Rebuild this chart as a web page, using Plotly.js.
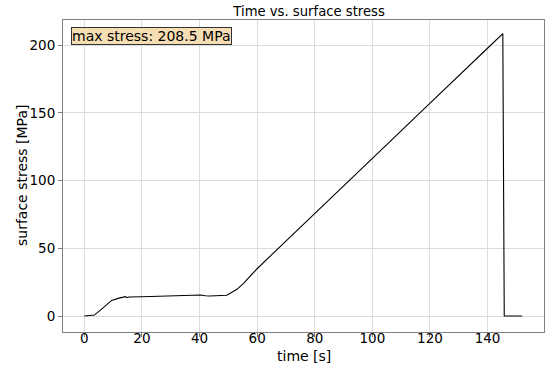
<!DOCTYPE html>
<html>
<head>
<meta charset="utf-8">
<script src="https://cdn.plot.ly/plotly-3.0.1.min.js"></script>
<style>html,body{margin:0;padding:0;background:#fff;}#chart{width:550px;height:367px;}</style>
</head>
<body>
<div id="chart"></div>
<script>
const time = [0, 3.5, 6.5, 9.5, 12, 14.3, 14.8, 15.5, 20, 30, 38, 40.5, 42, 43.5, 49.5, 50.5, 53, 55.3, 59.9, 65, 70, 71.5, 72.5, 80, 85.3, 90, 96, 100, 110, 116.5, 120, 130, 140.8, 145.3, 145.8, 146.2, 152];
const stress = [0, 0.7, 6, 11.5, 13.2, 14.3, 13.6, 14, 14.2, 14.6, 15.3, 15.5, 15.0, 14.8, 15.3, 16.5, 19.7, 24.1, 34.7, 45.2, 55.3, 59, 61, 75.5, 86.3, 96, 108.2, 116.4, 136.7, 150, 157, 177.3, 199.3, 208.5, 0, 0, 0];
const maxStress = 208.5;
const xTicks = [0, 20, 40, 60, 80, 100, 120, 140];
const yTicks = [0, 50, 100, 150, 200];

const font = "DejaVu Sans, sans-serif";
const trace = {
  x: time, y: stress, type: "scatter", mode: "lines",
  line: {color: "#000000", width: 1.1},
  hoverinfo: "skip"
};
const axisCommon = {
  showgrid: true, gridcolor: "#dcdcdc", gridwidth: 1,
  zeroline: false, showline: true, linecolor: "#808080", linewidth: 1, mirror: true,
  ticks: "outside", ticklen: 4, tickcolor: "#808080", tickwidth: 1,
  tickfont: {family: font, size: 13.5, color: "#000"}
};
const layout = {
  width: 550, height: 367,
  margin: {l: 63, r: 6, t: 20, b: 35, pad: 0},
  paper_bgcolor: "#fff", plot_bgcolor: "#fff",
  showlegend: false,
  title: {text: "Time vs. surface stress", font: {family: font, size: 13.2, color: "#000"},
          xref: "container", x: 0.562, xanchor: "center", yref: "container", y: 0.97, yanchor: "middle"},
  xaxis: Object.assign({}, axisCommon, {
    range: [-7.4, 159.6], tickvals: xTicks, ticktext: xTicks.map(String), ticklabelstandoff: -10
  }),
  yaxis: Object.assign({}, axisCommon, {
    range: [-11.8, 218.5], tickvals: yTicks, ticktext: yTicks.map(String)
  }),
  annotations: [{
    xref: "paper", yref: "paper", x: 0.0166, y: 0.977, xanchor: "left", yanchor: "top",
    text: "max stress: " + maxStress.toFixed(1) + " MPa", showarrow: false,
    font: {family: font, size: 14, color: "#000"},
    bgcolor: "#f5deb3", bordercolor: "#333333", borderwidth: 1, borderpad: 0
  }, {
    xref: "paper", yref: "paper", x: 0.5, y: -0.0765, xanchor: "center", yanchor: "middle",
    text: "time [s]", showarrow: false, font: {family: font, size: 14, color: "#000"}
  }, {
    xref: "paper", yref: "paper", x: -0.0852, y: 0.5, xanchor: "center", yanchor: "middle",
    textangle: -90, text: "surface stress [MPa]", showarrow: false, font: {family: font, size: 14, color: "#000"}
  }]
};
Plotly.newPlot("chart", [trace], layout, {staticPlot: true, displayModeBar: false});
</script>
</body>
</html>
